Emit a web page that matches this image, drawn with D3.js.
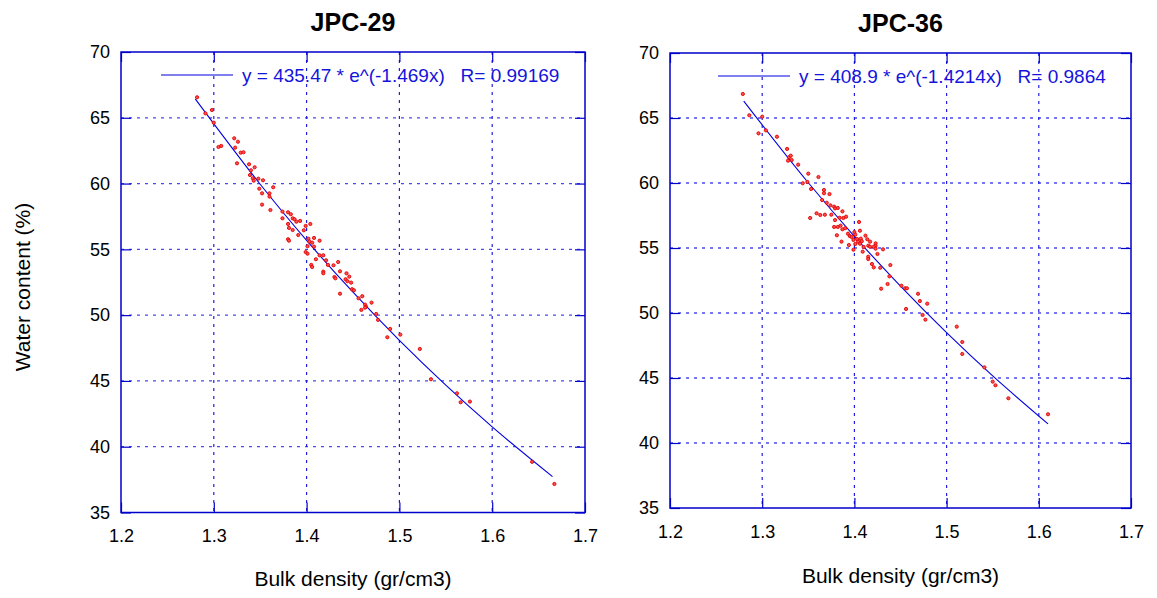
<!DOCTYPE html>
<html lang="en">
<head>
<meta charset="UTF-8">
<title>Water content vs bulk density</title>
<script src="https://d3js.org/d3.v7.min.js"></script>
<style>
  body { margin: 0; background: #fff; }
  text { font-family: "Liberation Sans", Arial, sans-serif; }
  .tick text { font-size: 18px; fill: #000; }
  .title { font-size: 25px; font-weight: bold; fill: #000; }
  .axislabel { font-size: 21px; fill: #000; }
  .legend { font-size: 19px; fill: #1414dc; }
</style>
</head>
<body>
<svg id="chart" width="1157" height="598"></svg>
<script>
// ## Data
const densityTicks = [1.2, 1.3, 1.4, 1.5, 1.6, 1.7];
const waterTicks = [35, 40, 45, 50, 55, 60, 65, 70];

const jpc29Density = [1.282,1.291,1.298,1.300,1.305,1.308,1.322,1.326,1.323,1.329,1.332,1.325,1.338,1.344,1.340,1.339,1.342,1.343,1.348,1.353,
  1.349,1.352,1.360,1.364,1.360,1.352,1.361,1.374,1.374,1.380,1.383,1.385,1.387,1.393,1.380,1.381,1.385,1.389,1.399,1.404,
  1.397,1.380,1.381,1.391,1.402,1.408,1.401,1.403,1.406,1.414,1.408,1.399,1.401,1.414,1.418,1.410,1.405,1.406,1.421,1.418,
  1.418,1.423,1.429,1.434,1.436,1.430,1.443,1.431,1.446,1.442,1.444,1.448,1.436,1.449,1.451,1.456,1.460,1.470,1.463,1.464,
  1.463,1.459,1.475,1.477,1.490,1.487,1.501,1.522,1.534,1.562,1.566,1.576,1.643,1.667];
const jpc29Water = [66.56,65.34,65.59,64.63,62.78,62.86,63.44,63.18,62.73,62.35,62.38,61.54,61.47,61.24,61.01,60.65,60.40,60.22,60.37,60.25,
  59.61,59.26,59.26,59.72,59.01,58.40,57.99,57.87,57.36,57.82,57.67,57.36,57.29,57.16,56.93,56.63,56.47,57.10,56.78,56.93,
  56.45,55.77,55.66,56.09,55.81,55.87,55.24,55.59,55.51,55.66,55.21,54.80,54.67,54.55,54.55,54.25,53.82,53.66,54.17,53.31,
  53.18,53.82,53.79,54.04,53.33,52.90,53.18,52.80,52.93,52.73,52.58,52.47,51.63,51.97,51.89,51.28,51.44,50.95,50.80,50.65,
  50.57,50.40,50.09,49.64,48.95,48.32,48.52,47.43,45.13,44.06,43.38,43.43,38.85,37.17];

const jpc36Density = [1.279,1.286,1.300,1.304,1.296,1.316,1.327,1.329,1.331,1.328,1.332,1.339,1.350,1.361,1.344,1.349,1.353,1.367,1.367,1.373,
  1.365,1.370,1.374,1.378,1.379,1.382,1.387,1.352,1.359,1.363,1.368,1.375,1.379,1.384,1.388,1.391,1.382,1.378,1.385,1.387,
  1.390,1.393,1.381,1.386,1.394,1.395,1.400,1.401,1.405,1.406,1.397,1.403,1.399,1.404,1.407,1.408,1.406,1.401,1.399,1.410,
  1.412,1.414,1.415,1.417,1.417,1.423,1.423,1.421,1.423,1.431,1.425,1.409,1.415,1.415,1.419,1.421,1.428,1.439,1.438,1.429,
  1.436,1.451,1.455,1.457,1.456,1.469,1.471,1.479,1.474,1.477,1.511,1.517,1.517,1.541,1.550,1.553,1.567,1.610];
const jpc36Water = [66.85,65.21,65.10,64.05,63.82,63.56,62.62,61.98,62.10,61.72,61.77,61.41,60.72,60.46,59.98,60.08,59.54,59.46,59.21,59.15,
  58.69,58.48,58.28,58.18,58.05,58.08,57.82,57.31,57.67,57.54,57.56,57.56,57.15,57.33,57.31,57.41,56.62,56.62,56.72,56.44,
  56.52,56.10,55.98,55.49,55.23,55.92,56.23,56.02,57.00,56.33,55.85,55.69,55.62,55.49,55.72,55.52,55.33,55.31,54.87,55.08,
  55.95,55.67,55.18,55.10,55.49,55.36,55.18,55.10,54.95,54.90,54.54,54.72,54.33,54.15,53.77,53.51,53.48,53.69,52.82,51.87,
  52.23,52.10,51.90,51.90,50.31,51.48,50.92,50.72,49.85,49.49,48.95,47.77,46.85,45.82,44.72,44.44,43.44,42.21];

// fitted curves, points
const jpc29FitDensity = [1.28, 1.35, 1.40, 1.45, 1.50, 1.55, 1.60, 1.665];
const jpc29FitWater = [66.44, 59.95, 55.68, 51.74, 48.08, 44.68, 41.51, 37.73];
const jpc36FitDensity = [1.28, 1.35, 1.40, 1.45, 1.50, 1.55, 1.61];
const jpc36FitWater = [66.30, 60.02, 55.90, 52.07, 48.49, 45.16, 41.47];

const panelTitles = ["JPC-29", "JPC-36"];
const legendTexts = ["y = 435.47 * e^(-1.469x)   R= 0.99169", "y = 408.9 * e^(-1.4214x)   R= 0.9864"];
const xTitle = "Bulk density (gr/cm3)";
const yTitle = "Water content (%)";

// ## Layout
const svg = d3.select("#chart");
const blue = "#0000cc";

const panels = [
  { title: panelTitles[0], xs: jpc29Density, ys: jpc29Water, fx: jpc29FitDensity, fy: jpc29FitWater, legend: legendTexts[0],
    box: {left: 121, top: 52, right: 585, bottom: 512.5}, titleY: 31, xTitleY: 586, legendX: 40, yTitle: true },
  { title: panelTitles[1], xs: jpc36Density, ys: jpc36Water, fx: jpc36FitDensity, fy: jpc36FitWater, legend: legendTexts[1],
    box: {left: 670, top: 53, right: 1131, bottom: 508}, titleY: 32, xTitleY: 583, legendX: 48, yTitle: false }
];

panels.forEach(drawPanel);

function drawPanel(p) {
  const w = p.box.right - p.box.left;
  const h = p.box.bottom - p.box.top;

  const xScale = d3.scaleLinear().domain([1.2, 1.7]).range([0, w]);
  const yScale = d3.scaleLinear().domain([35, 70]).range([h, 0]);

  const g = svg.append("g")
    .attr("transform", `translate(${p.box.left},${p.box.top})`);

  // grid, dotted
  const inner = t => t.slice(1, -1);
  g.append("g")
    .selectAll("line")
    .data(inner(waterTicks))
    .join("line")
      .attr("x1", 0).attr("x2", w)
      .attr("y1", d => yScale(d)).attr("y2", d => yScale(d))
      .attr("stroke", "#4a4ae8")
      .attr("stroke-width", 1.3)
      .attr("stroke-dasharray", "3,5");

  g.append("g")
    .selectAll("line")
    .data(inner(densityTicks))
    .join("line")
      .attr("x1", d => xScale(d)).attr("x2", d => xScale(d))
      .attr("y1", 0).attr("y2", h)
      .attr("stroke", "#1f1fe0")
      .attr("stroke-width", 1.2)
      .attr("stroke-dasharray", "3,5");

  // axes with inner ticks
  const styleAxis = a => a
    .call(s => s.select(".domain").remove())
    .call(s => s.selectAll(".tick line").attr("stroke", blue).attr("stroke-width", 1.2));

  g.append("g")
    .attr("transform", `translate(0,${h})`)
    .call(d3.axisBottom(xScale).tickValues(densityTicks).tickSizeInner(-10).tickSizeOuter(0)
      .tickPadding(17).tickFormat(d3.format(".1f")))
    .call(styleAxis);

  g.append("g")
    .call(d3.axisLeft(yScale).tickValues(waterTicks).tickSizeInner(-10).tickSizeOuter(0)
      .tickPadding(11).tickFormat(d3.format("d")))
    .call(styleAxis);

  g.append("g")
    .call(d3.axisTop(xScale).tickValues(densityTicks).tickSizeInner(-10).tickSizeOuter(0).tickFormat(""))
    .call(styleAxis);

  g.append("g")
    .attr("transform", `translate(${w},0)`)
    .call(d3.axisRight(yScale).tickValues(waterTicks).tickSizeInner(-10).tickSizeOuter(0).tickFormat(""))
    .call(styleAxis);

  // frame
  g.append("rect")
    .attr("x", 0).attr("y", 0)
    .attr("width", w).attr("height", h)
    .attr("fill", "none")
    .attr("stroke", blue)
    .attr("stroke-width", 1.5);

  // fitted line
  const fit = p.fx.map((d, i) => [d, p.fy[i]]);
  g.append("path")
    .datum(fit)
    .attr("fill", "none")
    .attr("stroke", "#0000dd")
    .attr("stroke-width", 1.1)
    .attr("d", d3.line()
      .x(d => xScale(d[0]))
      .y(d => yScale(d[1]))
      .curve(d3.curveMonotoneX));

  // points
  const points = p.xs.map((d, i) => [d, p.ys[i]]);
  g.append("g")
    .selectAll("circle")
    .data(points)
    .join("circle")
      .attr("cx", d => xScale(d[0]))
      .attr("cy", d => yScale(d[1]))
      .attr("r", 1.6)
      .attr("fill", "#ff5050")
      .attr("stroke", "#e00000")
      .attr("stroke-width", 0.9);

  // legend
  g.append("line")
    .attr("x1", p.legendX).attr("x2", p.legendX + 72)
    .attr("y1", 23).attr("y2", 23)
    .attr("stroke", "#0000dd")
    .attr("stroke-width", 1.1);

  g.append("text")
    .attr("class", "legend")
    .attr("x", p.legendX + 81)
    .attr("y", 30)
    .attr("xml:space", "preserve")
    .style("white-space", "pre")
    .text(p.legend);

  // titles
  svg.append("text")
    .attr("class", "title")
    .attr("x", p.box.left + w / 2)
    .attr("y", p.titleY)
    .attr("text-anchor", "middle")
    .text(p.title);

  svg.append("text")
    .attr("class", "axislabel")
    .attr("x", p.box.left + w / 2)
    .attr("y", p.xTitleY)
    .attr("text-anchor", "middle")
    .text(xTitle);

  if (p.yTitle) {
    svg.append("text")
      .attr("class", "axislabel")
      .attr("transform", "translate(30,287) rotate(-90)")
      .attr("text-anchor", "middle")
      .text(yTitle);
  }
}
</script>
</body>
</html>
